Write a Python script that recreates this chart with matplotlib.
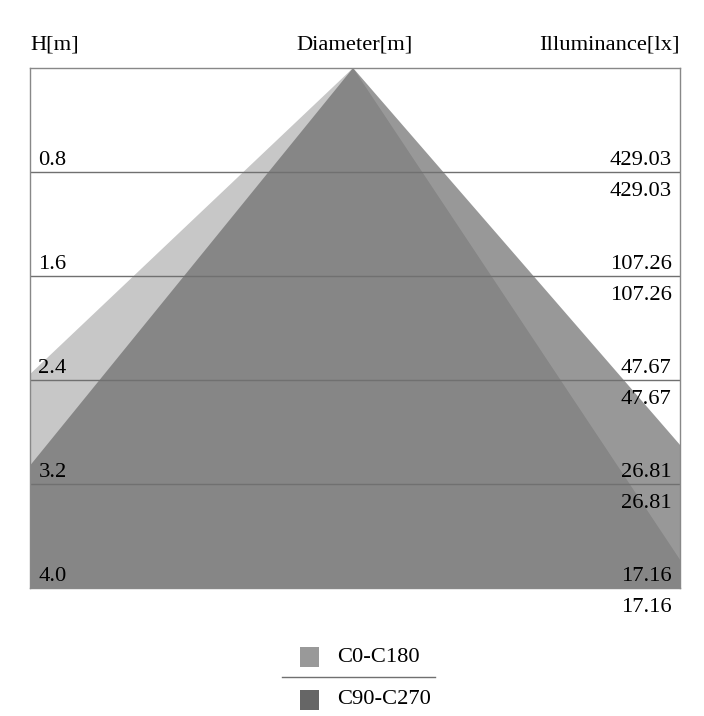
import matplotlib
matplotlib.use('Agg')
import matplotlib.pyplot as plt
from matplotlib.patches import Polygon, Rectangle
from matplotlib.lines import Line2D

plt.rcParams['font.family'] = ['Liberation Serif', 'DejaVu Serif']

#heights of the reference planes and illuminance at each of them
heights = [0.8, 1.6, 2.4, 3.2, 4.0]
illuminance = [429.03, 107.26, 47.67, 26.81, 17.16]

#half diameters [m] of each C-plane at the bottom plane (4.0 m), left and right of the luminaire
series = ['C0-C180', 'C90-C270']
half_left = [4.22, 3.25]
half_right = [2.66, 3.47]
colours = ['#999999', '#666666']
alphas = [0.55, 0.67]

fs = 16.2
W, H = 704, 716
fig = plt.figure(figsize=(W/100, H/100), dpi=100)
ax = fig.add_axes([30/W, 1-588/H, 650/W, 520/H])
#luminaire sits a touch left of the box centre
ax.set_xlim(-2.485, 2.515)
ax.set_ylim(heights[-1], 0)
ax.set_xticks([])
ax.set_yticks([])
for s in ax.spines.values():
    s.set_color('#888888')
    s.set_linewidth(1)

bottom = heights[-1]
for i in range(len(series)):
    poly = Polygon([(0, 0), (-half_left[i], bottom), (half_right[i], bottom)],
                   closed=True, facecolor=colours[i], alpha=alphas[i],
                   edgecolor='none', zorder=1)
    ax.add_patch(poly)

for h in heights[:-1]:
    ax.axhline(h, color='#707070', lw=1, zorder=2)

for h, e in zip(heights, illuminance):
    ax.annotate('%.1f' % h, xy=(0, h), xycoords=('axes fraction', 'data'),
                xytext=(6, 5), textcoords='offset points',
                ha='left', va='baseline', fontsize=fs, zorder=3)
    ax.annotate('%.2f' % e, xy=(1, h), xycoords=('axes fraction', 'data'),
                xytext=(-6, 5), textcoords='offset points',
                ha='right', va='baseline', fontsize=fs, zorder=3)
    ax.annotate('%.2f' % e, xy=(1, h), xycoords=('axes fraction', 'data'),
                xytext=(-6, -7), textcoords='offset points',
                ha='right', va='top', fontsize=fs, zorder=3,
                annotation_clip=False)

#column headers
fig.text(30/W, 1-45/H, 'H[m]', ha='left', va='center', fontsize=fs)
fig.text(355/W, 1-45/H, 'Diameter[m]', ha='center', va='center', fontsize=fs)
fig.text(680/W, 1-45/H, 'Illuminance[lx]', ha='right', va='center', fontsize=fs)

#legend
ys = [657, 700]
for name, c, y in zip(series, colours, ys):
    fig.patches.append(Rectangle((300/W, 1-(y+10)/H), 19/W, 20/H,
                                 transform=fig.transFigure, facecolor=c,
                                 edgecolor='none'))
    fig.text(337/W, 1-y/H, name, ha='left', va='center', fontsize=fs)
fig.add_artist(Line2D([282/W, 435/W], [1-677/H, 1-677/H],
                      transform=fig.transFigure, color='#707070', lw=1))

fig.savefig('out.png', dpi=100)
